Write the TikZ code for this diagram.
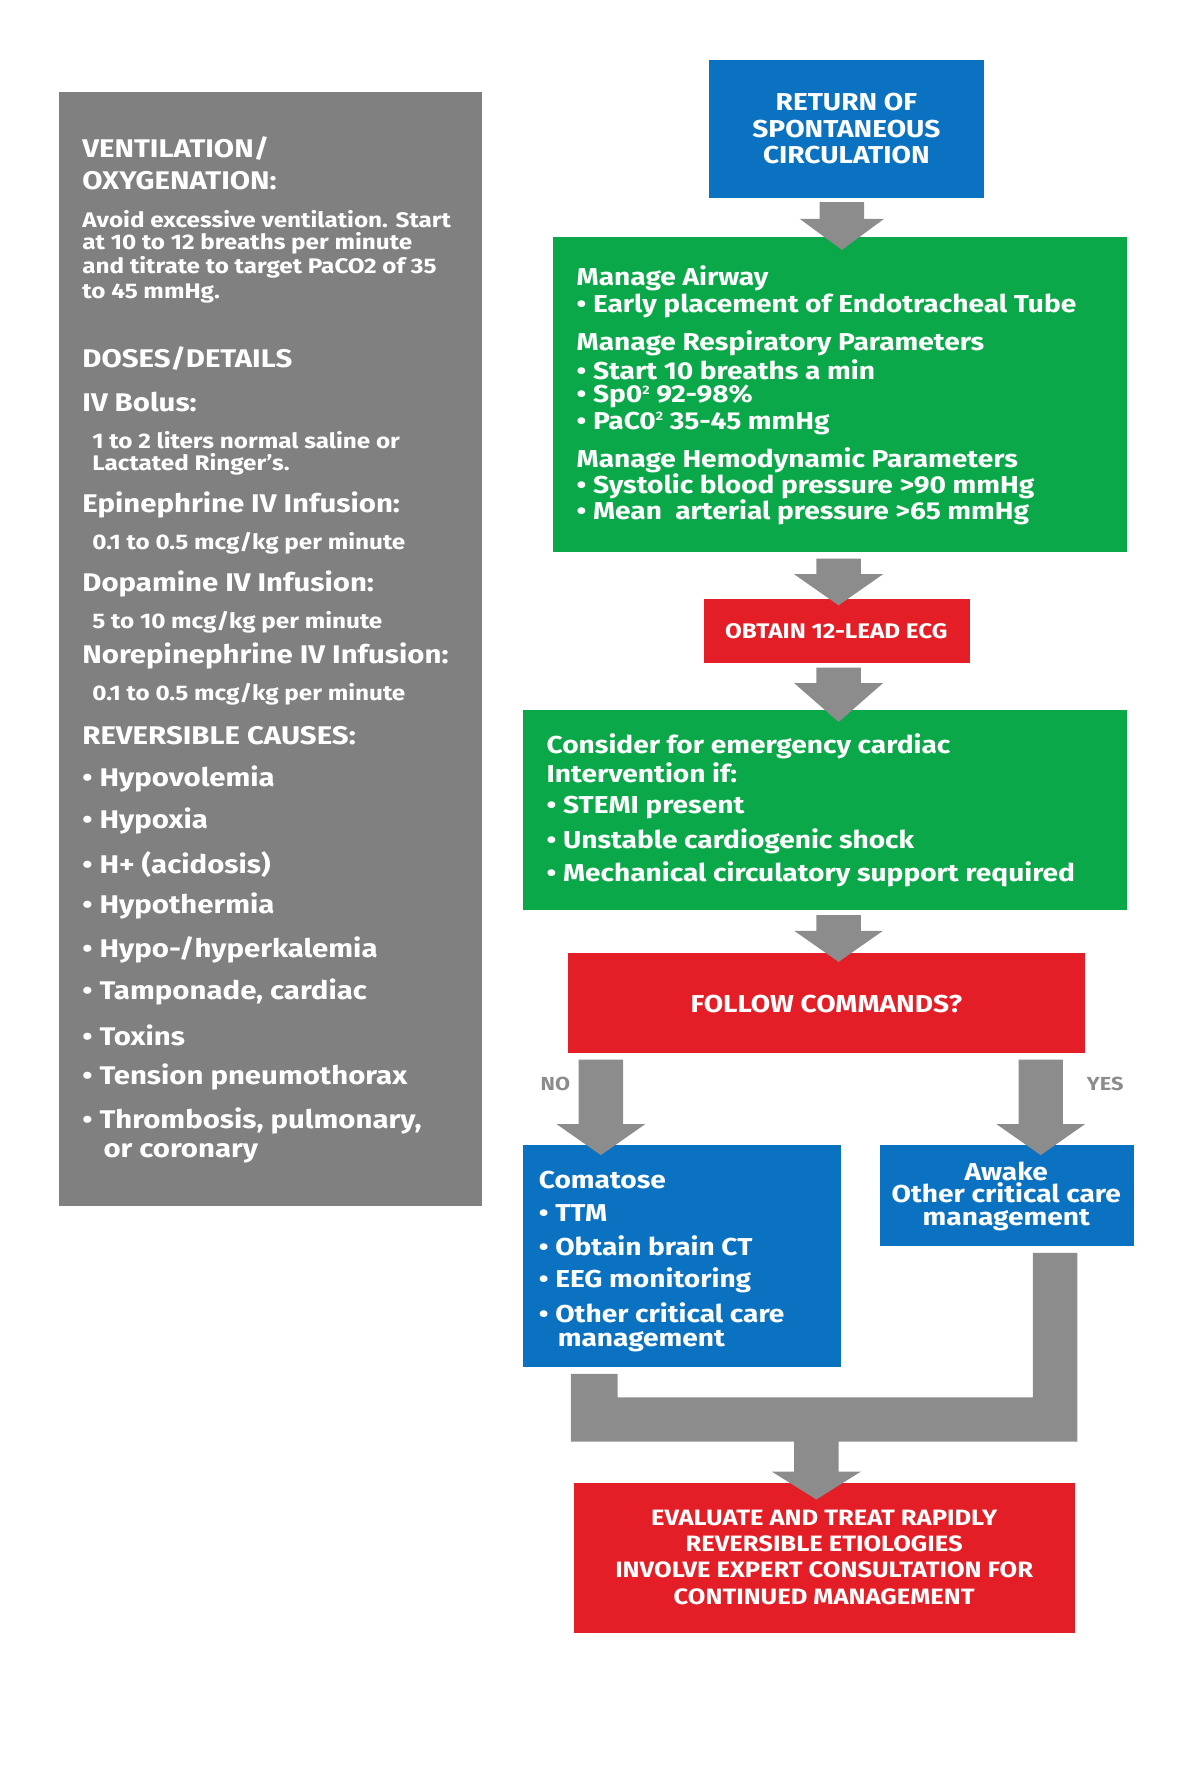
\documentclass[tikz,border=0pt]{standalone}
\usepackage{fontspec}
\setmainfont{Fira Sans}[FakeStretch=1.15]
\definecolor{pgray}{HTML}{808080}
\definecolor{agray}{HTML}{8C8C8C}
\definecolor{cblue}{HTML}{0A72C0}
\definecolor{cgreen}{HTML}{0BA84A}
\definecolor{cred}{HTML}{E31E26}
\newcommand\barrow[6]{\fill[agray] ({#1-#5},#2) -- ({#1+#5},#2) -- ({#1+#5},#3) -- ({#1+#6},#3) -- (#1,#4) -- ({#1-#6},#3) -- ({#1-#5},#3) -- cycle;}
\newcommand\sq{\raisebox{0.35em}{\fontsize{11}{11}\selectfont 2}}
\tikzset{
 t/.style={anchor=west,inner sep=0,text=white,font=\bfseries\fontsize{22}{24}\selectfont},
 ts/.style={t,font=\bfseries\fontsize{19}{21}\selectfont},
 th/.style={t,font=\bfseries\fontsize{23}{25}\selectfont},
 tc/.style={inner sep=0,text=white,align=center},
 lab/.style={inner sep=0,text=agray,font=\bfseries\fontsize{17}{19}\selectfont}
}
\begin{document}
\begin{tikzpicture}[x=1pt,y=-1pt]
\useasboundingbox (0,0) rectangle (1080,1590);
% panel
\fill[pgray] (53,83) rectangle (434,1086);
\node[th] (p1) at (74,134) {VENTILATION/};
\node[th] (p2) at (74,163) {OXYGENATION:};
\node[ts] (p3) at (74,197) {Avoid excessive ventilation. Start};
\node[ts] (p4) at (74,219) {at 10 to 12 breaths per minute};
\node[ts] (p5) at (74,241) {and titrate to target PaCO2 of 35};
\node[ts] (p6) at (74,264) {to 45 mmHg.};
\node[th] (p7) at (74,323) {DOSES/DETAILS};
\node[th] (p8) at (74,362) {IV Bolus:};
\node[ts] (p9) at (83,396) {1 to 2 liters normal saline or};
\node[ts] (p10) at (83,418) {Lactated Ringer’s.};
\node[th] (p11) at (74,455) {Epinephrine IV Infusion:};
\node[ts] (p12) at (83,489) {0.1 to 0.5 mcg/kg per minute};
\node[th] (p13) at (74,526) {Dopamine IV Infusion:};
\node[ts] (p14) at (83,560) {5 to 10 mcg/kg per minute};
\node[th] (p15) at (74,591) {Norepinephrine IV Infusion:};
\node[ts] (p16) at (83,625) {0.1 to 0.5 mcg/kg per minute};
\node[th] (p17) at (74,662) {REVERSIBLE CAUSES:};
\node[th] (c1) at (74,701) {• Hypovolemia};
\node[th] (c2) at (74,739) {• Hypoxia};
\node[th] (c3) at (74,778) {• H+ (acidosis)};
\node[th] (c4) at (74,816) {• Hypothermia};
\node[th] (c5) at (74,855) {• Hypo-/hyperkalemia};
\node[th] (c6) at (74,893) {• Tamponade, cardiac};
\node[th] (c7) at (74,932) {• Toxins};
\node[th] (c8) at (74,970) {• Tension pneumothorax};
\node[th] (c9) at (74,1009) {• Thrombosis, pulmonary,};
\node[th] (c10) at (93,1038) {or coronary};
% boxes
\fill[cblue] (638,54) rectangle (886,178);
\node[tc,font=\bfseries\fontsize{22}{24}\selectfont] (rosc) at (762,116) {RETURN OF\\SPONTANEOUS\\CIRCULATION};
\fill[cgreen] (498,213) rectangle (1015,497);
\node[t] (g1) at (519,251) {Manage Airway};
\node[t] (g2) at (519,275) {• Early placement of Endotracheal Tube};
\node[t] (g3) at (519,309) {Manage Respiratory Parameters};
\node[t] (g4) at (519,333) {• Start 10 breaths a min};
\node[t] (g5) at (519,357) {• Sp0\sq{} 92-98\%};
\node[t] (g6) at (519,381) {• PaC0\sq{} 35-45 mmHg};
\node[t] (g7) at (519,414) {Manage Hemodynamic Parameters};
\node[t] (g8) at (519,438) {• Systolic blood pressure >90 mmHg};
\node[t] (g9) at (519,461) {• Mean\ \ arterial pressure >65 mmHg};
\fill[cred] (634,539) rectangle (873,597);
\node[tc,font=\bfseries\fontsize{19}{21}\selectfont] (ecg) at (753,568) {OBTAIN 12-LEAD ECG};
\fill[cgreen] (471,639) rectangle (1015,819);
\node[t] (h1) at (492,672) {Consider for emergency cardiac};
\node[t] (h2) at (492,696) {Intervention if:};
\node[t] (h3) at (492,727) {• STEMI present};
\node[t] (h4) at (492,757) {• Unstable cardiogenic shock};
\node[t] (h5) at (492,787) {• Mechanical circulatory support required};
\fill[cred] (511,858) rectangle (977,948);
\node[tc,font=\bfseries\fontsize{22}{24}\selectfont] (fc) at (744,904) {FOLLOW COMMANDS?};
\node[lab] (no) at (500,976) {NO};
\node[lab] (yes) at (995,976) {YES};
\fill[cblue] (471,1031) rectangle (757,1231);
\node[t] (k1) at (485,1062) {Comatose};
\node[t] (k2) at (485,1092) {• TTM};
\node[t] (k3) at (485,1122) {• Obtain brain CT};
\node[t] (k4) at (485,1153) {• EEG monitoring};
\node[t] (k5) at (485,1182) {• Other critical care};
\node[t] (k6) at (502,1207) {management};
\fill[cblue] (792,1031) rectangle (1021,1122);
\node[tc,font=\bfseries\fontsize{22}{20.5}\selectfont] (aw) at (906,1077) {Awake\\Other critical care\\management};
\fill[cred] (517,1335) rectangle (968,1470);
\node[tc,font=\bfseries\fontsize{20}{23.7}\selectfont] (ev) at (742,1402) {EVALUATE AND TREAT RAPIDLY\\REVERSIBLE ETIOLOGIES\\INVOLVE EXPERT CONSULTATION FOR\\CONTINUED MANAGEMENT};
% arrows
\barrow{758}{182}{197}{225}{20}{38}
\barrow{755}{503}{517}{545}{20}{40}
\barrow{755}{601}{615}{650}{20}{40}
\barrow{755}{824}{838}{866}{20}{40}
\barrow{541}{954}{1012}{1040}{20}{40}
\barrow{937}{954}{1012}{1040}{20}{40}
\fill[agray] (514,1237) -- (556,1237) -- (556,1258) -- (930,1258) -- (930,1128) -- (970,1128) -- (970,1298) -- (514,1298) -- cycle;
\barrow{735}{1296}{1325}{1350}{20}{40}
\end{tikzpicture}
\end{document}
